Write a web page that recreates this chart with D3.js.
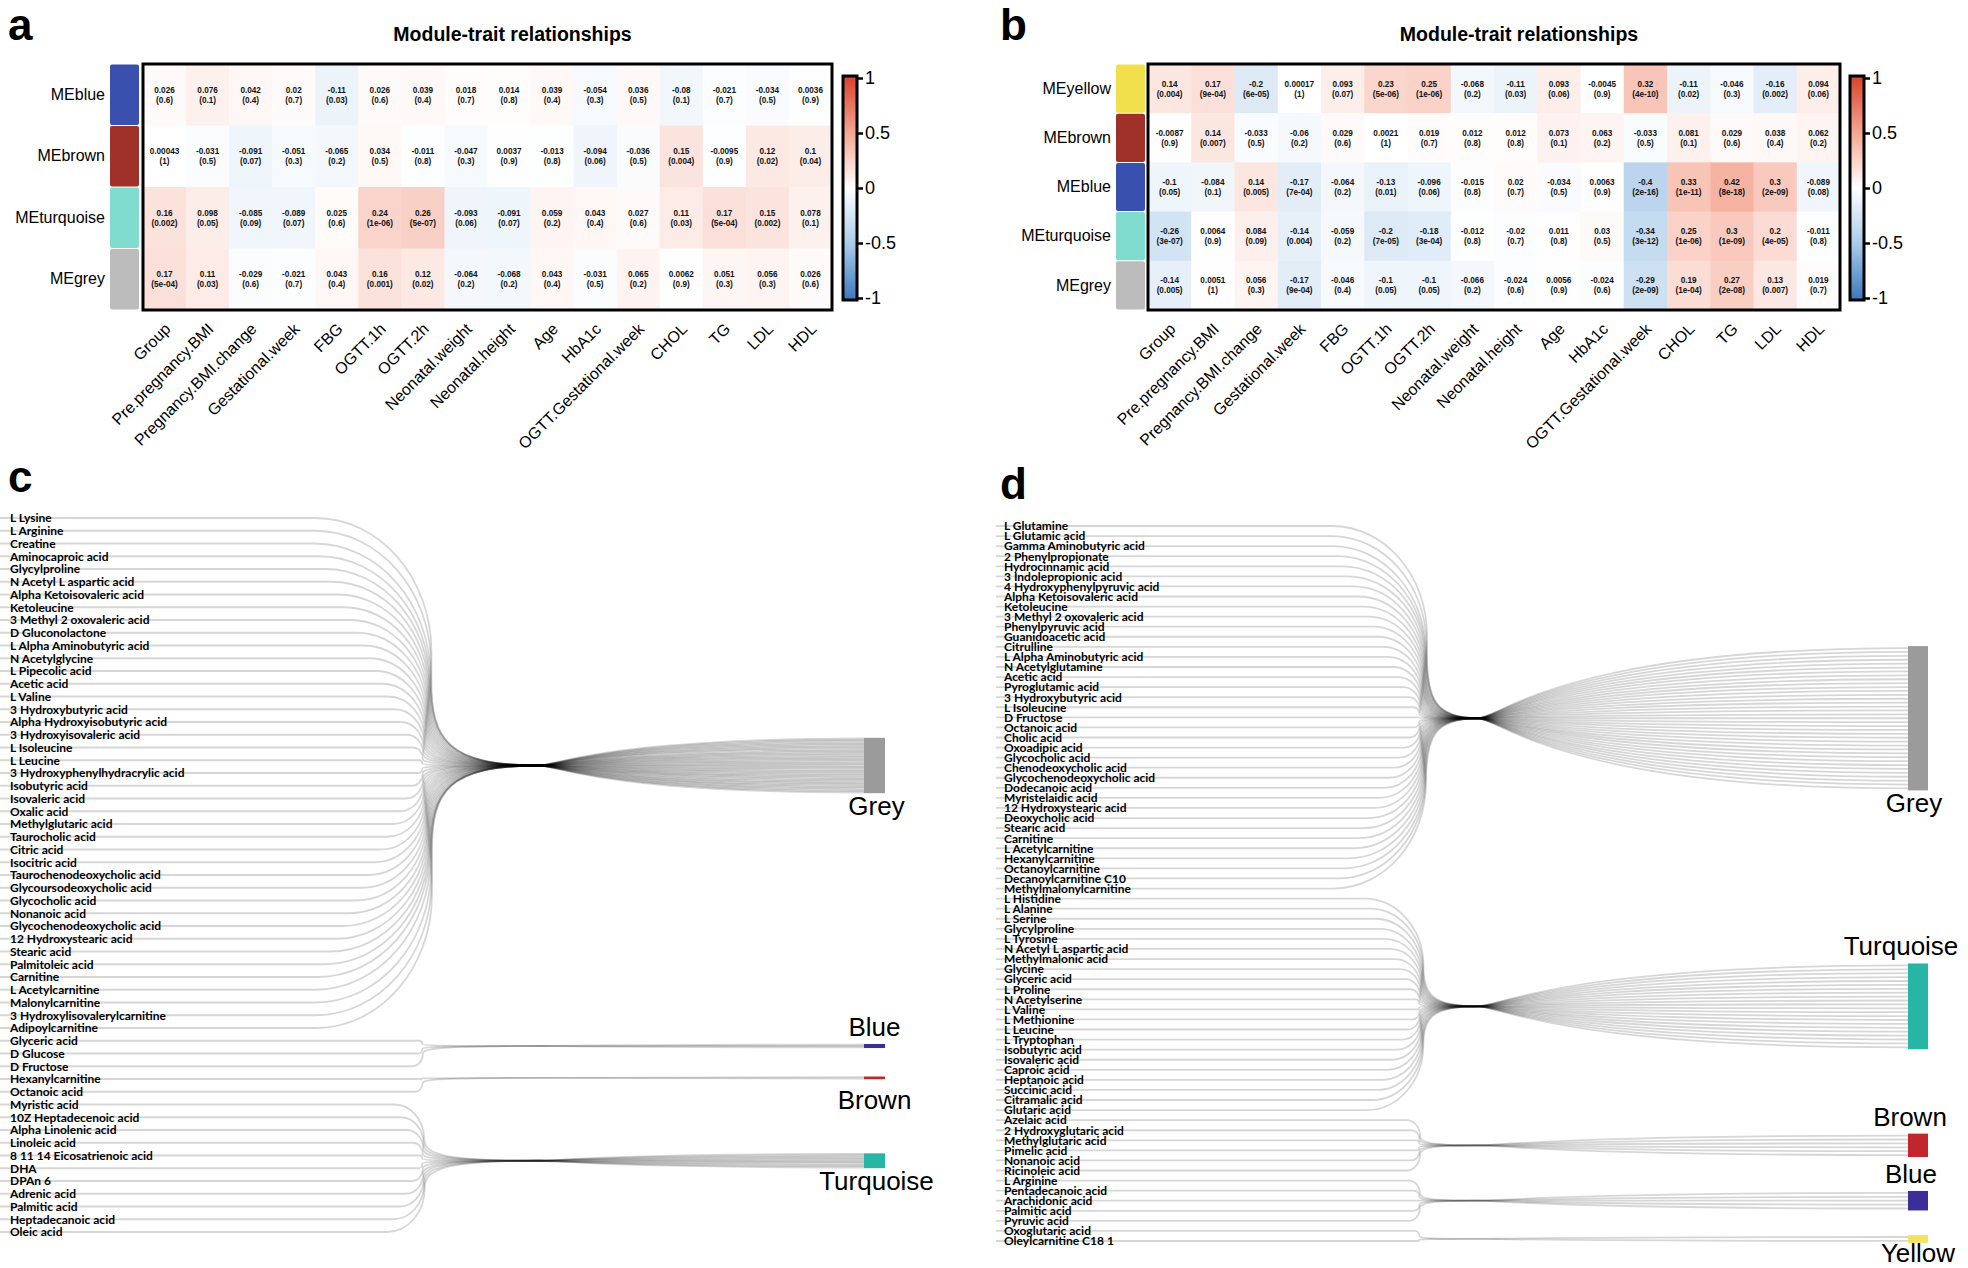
<!DOCTYPE html>
<html><head><meta charset="utf-8">
<script src="https://cdn.jsdelivr.net/npm/d3@7"></script>
<style>body{margin:0;background:#fff} svg{display:block}</style>
</head><body>
<svg id="fig" width="1968" height="1268"></svg>
<script>
// ---------------- DATA ----------------
const traits = ["Group","Pre.pregnancy.BMI","Pregnancy.BMI.change","Gestational.week","FBG","OGTT.1h","OGTT.2h","Neonatal.weight","Neonatal.height","Age","HbA1c","OGTT.Gestational.week","CHOL","TG","LDL","HDL"];

const modulesA = ["MEblue","MEbrown","MEturquoise","MEgrey"];
const corA = [
 [0.026,0.076,0.042,0.02,-0.11,0.026,0.039,0.018,0.014,0.039,-0.054,0.036,-0.08,-0.021,-0.034,0.0036],
 [0.00043,-0.031,-0.091,-0.051,-0.065,0.034,-0.011,-0.047,0.0037,-0.013,-0.094,-0.036,0.15,-0.0095,0.12,0.1],
 [0.16,0.098,-0.085,-0.089,0.025,0.24,0.26,-0.093,-0.091,0.059,0.043,0.027,0.11,0.17,0.15,0.078],
 [0.17,0.11,-0.029,-0.021,0.043,0.16,0.12,-0.064,-0.068,0.043,-0.031,0.065,0.0062,0.051,0.056,0.026]
];
const pA = [
 ["0.6","0.1","0.4","0.7","0.03","0.6","0.4","0.7","0.8","0.4","0.3","0.5","0.1","0.7","0.5","0.9"],
 ["1","0.5","0.07","0.3","0.2","0.5","0.8","0.3","0.9","0.8","0.06","0.5","0.004","0.9","0.02","0.04"],
 ["0.002","0.05","0.09","0.07","0.6","1e-06","5e-07","0.06","0.07","0.2","0.4","0.6","0.03","5e-04","0.002","0.1"],
 ["5e-04","0.03","0.6","0.7","0.4","0.001","0.02","0.2","0.2","0.4","0.5","0.2","0.9","0.3","0.3","0.6"]
];

const modulesB = ["MEyellow","MEbrown","MEblue","MEturquoise","MEgrey"];
const corB = [
 [0.14,0.17,-0.2,0.00017,0.093,0.23,0.25,-0.068,-0.11,0.093,-0.0045,0.32,-0.11,-0.046,-0.16,0.094],
 [-0.0087,0.14,-0.033,-0.06,0.029,0.0021,0.019,0.012,0.012,0.073,0.063,-0.033,0.081,0.029,0.038,0.062],
 [-0.1,-0.084,0.14,-0.17,-0.064,-0.13,-0.096,-0.015,0.02,-0.034,0.0063,-0.4,0.33,0.42,0.3,-0.089],
 [-0.26,0.0064,0.084,-0.14,-0.059,-0.2,-0.18,-0.012,-0.02,0.011,0.03,-0.34,0.25,0.3,0.2,-0.011],
 [-0.14,0.0051,0.056,-0.17,-0.046,-0.1,-0.1,-0.066,-0.024,0.0056,-0.024,-0.29,0.19,0.27,0.13,0.019]
];
const pB = [
 ["0.004","9e-04","6e-05","1","0.07","5e-06","1e-06","0.2","0.03","0.06","0.9","4e-10","0.02","0.3","0.002","0.06"],
 ["0.9","0.007","0.5","0.2","0.6","1","0.7","0.8","0.8","0.1","0.2","0.5","0.1","0.6","0.4","0.2"],
 ["0.05","0.1","0.005","7e-04","0.2","0.01","0.06","0.8","0.7","0.5","0.9","2e-16","1e-11","8e-18","2e-09","0.08"],
 ["3e-07","0.9","0.09","0.004","0.2","7e-05","3e-04","0.8","0.7","0.8","0.5","3e-12","1e-06","1e-09","4e-05","0.8"],
 ["0.005","1","0.3","9e-04","0.4","0.05","0.05","0.2","0.6","0.9","0.6","2e-09","1e-04","2e-08","0.007","0.7"]
];
const colorTicks = [-1,-0.5,0,0.5,1];

const metabolitesC = ["L Lysine","L Arginine","Creatine","Aminocaproic acid","Glycylproline","N Acetyl L aspartic acid","Alpha Ketoisovaleric acid","Ketoleucine","3 Methyl 2 oxovaleric acid","D Gluconolactone","L Alpha Aminobutyric acid","N Acetylglycine","L Pipecolic acid","Acetic acid","L Valine","3 Hydroxybutyric acid","Alpha Hydroxyisobutyric acid","3 Hydroxyisovaleric acid","L Isoleucine","L Leucine","3 Hydroxyphenylhydracrylic acid","Isobutyric acid","Isovaleric acid","Oxalic acid","Methylglutaric acid","Taurocholic acid","Citric acid","Isocitric acid","Taurochenodeoxycholic acid","Glycoursodeoxycholic acid","Glycocholic acid","Nonanoic acid","Glycochenodeoxycholic acid","12 Hydroxystearic acid","Stearic acid","Palmitoleic acid","Carnitine","L Acetylcarnitine","Malonylcarnitine","3 Hydroxylisovalerylcarnitine","Adipoylcarnitine","Glyceric acid","D Glucose","D Fructose","Hexanylcarnitine","Octanoic acid","Myristic acid","10Z Heptadecenoic acid","Alpha Linolenic acid","Linoleic acid","8 11 14 Eicosatrienoic acid","DHA","DPAn 6","Adrenic acid","Palmitic acid","Heptadecanoic acid","Oleic acid"];
const modulesC = ["Grey","Blue","Brown","Turquoise"];
const moduleSizesC = [41,3,2,11];

const metabolitesD = ["L Glutamine","L Glutamic acid","Gamma Aminobutyric acid","2 Phenylpropionate","Hydrocinnamic acid","3 Indolepropionic acid","4 Hydroxyphenylpyruvic acid","Alpha Ketoisovaleric acid","Ketoleucine","3 Methyl 2 oxovaleric acid","Phenylpyruvic acid","Guanidoacetic acid","Citrulline","L Alpha Aminobutyric acid","N Acetylglutamine","Acetic acid","Pyroglutamic acid","3 Hydroxybutyric acid","L Isoleucine","D Fructose","Octanoic acid","Cholic acid","Oxoadipic acid","Glycocholic acid","Chenodeoxycholic acid","Glycochenodeoxycholic acid","Dodecanoic acid","Myristelaidic acid","12 Hydroxystearic acid","Deoxycholic acid","Stearic acid","Carnitine","L Acetylcarnitine","Hexanylcarnitine","Octanoylcarnitine","Decanoylcarnitine C10","Methylmalonylcarnitine","L Histidine","L Alanine","L Serine","Glycylproline","L Tyrosine","N Acetyl L aspartic acid","Methylmalonic acid","Glycine","Glyceric acid","L Proline","N Acetylserine","L Valine","L Methionine","L Leucine","L Tryptophan","Isobutyric acid","Isovaleric acid","Caproic acid","Heptanoic acid","Succinic acid","Citramalic acid","Glutaric acid","Azelaic acid","2 Hydroxyglutaric acid","Methylglutaric acid","Pimelic acid","Nonanoic acid","Ricinoleic acid","L Arginine","Pentadecanoic acid","Arachidonic acid","Palmitic acid","Pyruvic acid","Oxoglutaric acid","Oleylcarnitine C18 1"];
const modulesD = ["Grey","Turquoise","Brown","Blue","Yellow"];
const moduleSizesD = [37,22,6,5,2];

// ---------------- STYLE ----------------
const stripColor = {MEblue:"#3a50ae",MEbrown:"#9f3129",MEturquoise:"#7fdccf",MEgrey:"#bcbcbc",MEyellow:"#f1e04b"};
const barColor = {Grey:"#9b9b9b",Blue:"#3b2e99",Brown:"#c0262b",Turquoise:"#27b5a6",Yellow:"#f4e35f"};
const color = d3.scaleLinear().domain(colorTicks).range(["#3a78bd","#a9cbe9","#ffffff","#f4a590","#d9412b"]).clamp(true);
const ARIAL = "'Liberation Sans', Arial, sans-serif";

const svg = d3.select("#fig");
const defs = svg.append("defs");
const grad = defs.append("linearGradient").attr("id","cbgrad").attr("x1",0).attr("y1",1).attr("x2",0).attr("y2",0);
colorTicks.forEach(v => grad.append("stop").attr("offset", (v+1)/2).attr("stop-color", color(v)));

function heatmap(cfg){
  const g = svg.append("g");
  const x = d3.scaleBand().domain(traits).range([cfg.x0, cfg.x1]);
  const y = d3.scaleBand().domain(cfg.modules).range([cfg.y0, cfg.y1]);
  const cells = cfg.modules.flatMap((m,i)=>traits.map((t,j)=>({m,t,r:cfg.cor[i][j],p:cfg.p[i][j]})));
  g.selectAll("rect.cell").data(cells).join("rect")
    .attr("x",d=>x(d.t)).attr("y",d=>y(d.m)).attr("width",x.bandwidth()+0.5).attr("height",y.bandwidth()+0.5)
    .attr("fill",d=>color(d.r));
  const tx = g.selectAll("text.cell").data(cells).join("text")
    .attr("x",d=>x(d.t)+x.bandwidth()/2).attr("y",d=>y(d.m)+y.bandwidth()/2)
    .attr("text-anchor","middle").attr("font-family",ARIAL).attr("font-size",8.2).attr("font-weight","bold").attr("fill","#111");
  tx.append("tspan").attr("x",d=>x(d.t)+x.bandwidth()/2).attr("dy",-2).text(d=>String(d.r));
  tx.append("tspan").attr("x",d=>x(d.t)+x.bandwidth()/2).attr("dy",10).text(d=>"("+d.p+")");
  g.append("rect").attr("x",cfg.x0).attr("y",cfg.y0).attr("width",cfg.x1-cfg.x0).attr("height",cfg.y1-cfg.y0)
    .attr("fill","none").attr("stroke","#000").attr("stroke-width",3);
  g.selectAll("rect.strip").data(cfg.modules).join("rect")
    .attr("x",cfg.stripX).attr("y",d=>y(d)+0.5).attr("width",29).attr("height",y.bandwidth()-1)
    .attr("rx",2).attr("fill",d=>stripColor[d]);
  const ay = g.append("g").attr("transform",`translate(${cfg.stripX-5},0)`)
    .call(d3.axisLeft(y).tickSize(0).tickPadding(0));
  ay.select(".domain").remove();
  ay.selectAll("text").attr("font-family",ARIAL).attr("font-size",16).attr("fill","#000");
  const ax = g.append("g").attr("transform",`translate(0,${cfg.y1})`)
    .call(d3.axisBottom(x).tickSize(0));
  ax.select(".domain").remove();
  ax.selectAll("text").attr("font-family",ARIAL).attr("font-size",16).attr("fill","#000")
    .attr("text-anchor","end").attr("x",0).attr("y",0).attr("dy",null)
    .attr("transform","translate(7,20) rotate(-45)");
  const cb = d3.scaleLinear().domain([-1,1]).range([298,78]);
  g.append("rect").attr("x",cfg.cbX).attr("y",cb(1)-2).attr("width",14).attr("height",cb(-1)-cb(1)+4)
    .attr("fill","url(#cbgrad)").attr("stroke","#000").attr("stroke-width",3);
  const ac = g.append("g").attr("transform",`translate(${cfg.cbX+14},0)`)
    .call(d3.axisRight(cb).tickValues(colorTicks).tickSize(6).tickPadding(2).tickFormat(d=>String(d)));
  ac.select(".domain").remove();
  ac.selectAll("line").attr("stroke","#000").attr("stroke-width",2.5);
  ac.selectAll("text").attr("font-family",ARIAL).attr("font-size",18).attr("fill","#000");
  g.append("text").attr("x",(cfg.x0+cfg.x1)/2 + 25).attr("y",41).attr("text-anchor","middle")
    .attr("font-family",ARIAL).attr("font-weight","bold").attr("font-size",19.5).text("Module-trait relationships");
}

heatmap({modules:modulesA, cor:corA, p:pA, x0:143, x1:832, y0:64, y1:310, stripX:110, cbX:843});
heatmap({modules:modulesB, cor:corB, p:pB, x0:1148, x1:1840, y0:64, y1:310, stripX:1116, cbX:1850});

function sankey(cfg){
  const g = svg.append("g");
  const y = d3.scalePoint().domain(cfg.labels).range([cfg.yTop, cfg.yBot]);
  const unit = d3.scaleLinear().domain([0,1]).range([0,cfg.unit]);
  let idx = 0;
  const groups = cfg.modules.map((m,k)=>{
    const n = cfg.sizes[k];
    const items = cfg.labels.slice(idx, idx+n); idx += n;
    const yc = d3.mean(items, d=>y(d)) + cfg.offset[k];
    const h = unit(n);
    return {m, n, items, yc, h, top: yc - h/2, k};
  });
  const lines = [];
  groups.forEach(gr => gr.items.forEach((lab,k)=>lines.push({y0:y(lab), yc:gr.yc, yj: gr.top + unit(k+0.5)})));
  const amax = d3.max(lines, d=>Math.abs(d.yc-d.y0));
  const L = cfg.xb - cfg.xw, xw = cfg.xw, R1 = cfg.R1, R1y = cfg.R1*1.15, R2 = cfg.R2;
  const path = d => {
    const p = d3.path();
    const dy = d.yc - d.y0, s = dy >= 0 ? 1 : -1, a = Math.abs(dy);
    const xm = cfg.xm - cfg.nest * (1 - a/amax);
    const k = Math.min(1, a / (R1y + R2));
    const rx = R1 * k, ry = R1y * k, r2 = R2 * k;
    p.moveTo(cfg.x0, d.y0);
    p.lineTo(xm - rx, d.y0);
    p.bezierCurveTo(xm - rx*0.448, d.y0, xm, d.y0 + s*ry*0.448, xm, d.y0 + s*ry);
    p.lineTo(xm, d.yc - s*r2);
    p.bezierCurveTo(xm, d.yc - s*r2*0.3, xm + (xw-xm)*0.15, d.yc, xw, d.yc);
    p.bezierCurveTo(xw + 0.05*L, d.yc, xw + 0.2*L, d.yj, cfg.xb, d.yj);
    return p.toString();
  };
  g.selectAll("path.link").data(lines).join("path").attr("d",path)
    .attr("fill","none").attr("stroke","#000").attr("stroke-opacity",0.16).attr("stroke-width",1.8);
  g.selectAll("rect.bar").data(groups).join("rect")
    .attr("x",cfg.xb).attr("y",d=>d.top).attr("width",cfg.bw).attr("height",d=>Math.max(d.h,2))
    .attr("fill",d=>barColor[d.m]);
  g.selectAll("text.mod").data(groups).join("text")
    .attr("x",d=>cfg.xb + cfg.bw/2 + cfg.labelDx[d.k])
    .attr("y",d=>(cfg.labelPos[d.k]==="above" ? d.top - 8 : d.top + Math.max(d.h,2) + 22) + cfg.labelDy[d.k])
    .attr("text-anchor","middle").attr("font-family",ARIAL).attr("font-size",26).text(d=>d.m);
  g.selectAll("text.met").data(cfg.labels).join("text")
    .attr("x",cfg.labelX).attr("y",d=>y(d)).attr("dy","0.36em")
    .attr("font-family","Lato, 'Open Sans', sans-serif").attr("font-weight",700).attr("font-size",cfg.fs)
    .attr("fill","#000").text(d=>d);
}

sankey({labels:metabolitesC, modules:modulesC, sizes:moduleSizesC, yTop:518, yBot:1232, offset:[-7.5,-7.5,-7.5,-7.5],
  unit:1.35, x0:0, xm:432, xw:540, xb:864, bw:21, R1:116, R2:85, nest:10, labelX:10, fs:12,
  labelPos:["below","above","below","below"], labelDx:[2,0,0,2], labelDy:[0,0,8,0]});
sankey({labels:metabolitesD, modules:modulesD, sizes:moduleSizesD, yTop:526, yBot:1241, offset:[11,2,0,0,3],
  unit:3.9, x0:996, xm:1427, xw:1478, xb:1908, bw:20, R1:95, R2:65, nest:8, labelX:1004, fs:12,
  labelPos:["below","above","above","above","below"], labelDx:[-4,-17,-8,-7,0], labelDy:[0,0,0,0,-3]});

[["a",8,40],["b",1000,40],["c",8,492],["d",1000,499]].forEach(([t,x,y])=>
  svg.append("text").attr("x",x).attr("y",y).attr("font-family",ARIAL).attr("font-weight","bold").attr("font-size",44).text(t));
</script>
</body></html>
